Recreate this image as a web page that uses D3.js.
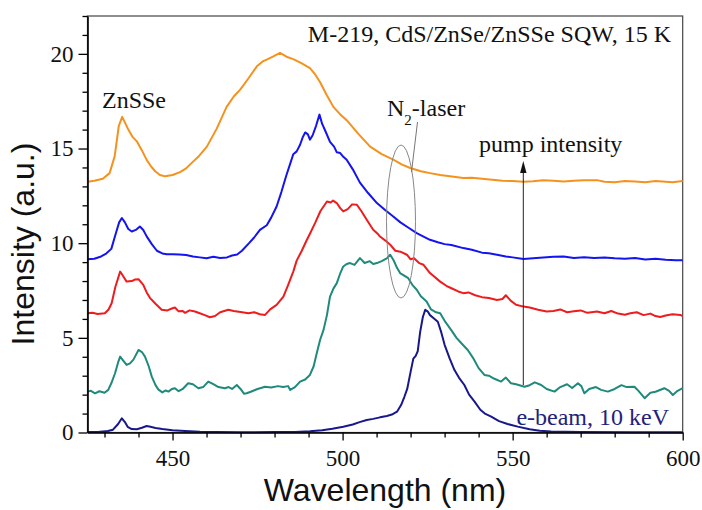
<!DOCTYPE html>
<html>
<head>
<meta charset="utf-8">
<script src="https://cdn.jsdelivr.net/npm/d3@7"></script>
<style>
  html, body { margin: 0; padding: 0; background: #fff; }
  svg { display: block; }
</style>
</head>
<body>
<svg id="chart" width="702" height="510"></svg>
<script>
// ---- data (wavelength nm, intensity a.u.) ----
const orange = [[425,13.25],[427,13.3],[429.5,13.4],[431.5,13.7],[433,14.6],[434.2,16.2],[435.2,16.67],[436.2,16.3],[437,16.0],[438.3,15.6],[439.5,15.38],[441,14.9],[442.4,14.4],[443.7,14.05],[444.9,13.8],[446.3,13.6],[447.8,13.53],[450,13.6],[452.2,13.75],[454,13.95],[455.1,14.15],[457.5,14.55],[460.1,15.1],[463,16.05],[465.9,17.2],[468,17.75],[469.9,18.11],[472.5,18.75],[474.8,19.34],[476.5,19.6],[477.7,19.7],[479.5,19.85],[481.6,20.05],[483.5,19.85],[485.5,19.72],[488,19.5],[490.4,19.25],[492,18.9],[493.4,18.5],[495.4,17.8],[497.3,17.2],[499.3,16.8],[501.2,16.5],[504.5,15.8],[508.1,15.1],[511.5,14.7],[514.9,14.41],[517.5,14.15],[519.9,13.97],[523,13.8],[525.7,13.7],[528.7,13.6],[531,13.55],[535.5,13.44],[538,13.45],[541,13.4],[544,13.35],[547,13.3],[550,13.28],[553.2,13.25],[556,13.27],[559,13.32],[562,13.3],[565,13.26],[568,13.3],[571,13.32],[574.8,13.33],[577,13.25],[580,13.22],[583,13.28],[586,13.26],[589,13.22],[592,13.28],[595,13.25],[597,13.22],[600,13.28]];

const blue = [[425,9.15],[427,9.18],[429,9.3],[430.5,9.45],[432,9.7],[433.3,10.5],[434.3,11.1],[435.1,11.33],[436,11.1],[437,10.75],[438,10.62],[439.2,10.7],[440.4,10.88],[441.4,10.7],[442.4,10.36],[443.9,9.95],[445.4,9.6],[447,9.46],[448.3,9.42],[450,9.42],[452,9.4],[454,9.38],[456,9.3],[458,9.25],[460,9.2],[462,9.28],[464,9.22],[466,9.25],[467.5,9.35],[469,9.4],[470.4,9.6],[472.5,10.0],[474,10.3],[475.7,10.7],[477.7,10.95],[479,11.35],[480.6,11.94],[482,12.7],[483.5,13.6],[484.6,14.2],[485.5,14.7],[486.5,14.85],[487.5,15.2],[488.3,15.6],[489,15.85],[489.8,15.75],[490.4,15.47],[491.2,15.7],[492.2,16.2],[493.2,16.79],[494,16.3],[495,15.9],[496.3,15.35],[497.5,15.1],[498.3,14.8],[499.3,14.76],[500.3,14.55],[501.2,14.41],[503,13.9],[505.1,13.2],[507.5,12.65],[510.1,12.12],[512.5,11.75],[514.9,11.41],[517,11.1],[519.5,10.8],[521.8,10.53],[523.8,10.35],[525.7,10.18],[528,10.05],[530,9.95],[532,9.9],[535.5,9.74],[538,9.65],[541,9.5],[543,9.47],[545.4,9.39],[548,9.3],[550,9.25],[553.2,9.16],[556,9.2],[559,9.25],[562,9.28],[565,9.3],[568,9.22],[571,9.26],[574,9.22],[577,9.25],[580,9.2],[583,9.18],[586,9.22],[589,9.14],[592,9.18],[595,9.12],[598,9.1],[600,9.1]];

const red = [[425,6.3],[426.5,6.32],[428,6.26],[430.1,6.3],[431.2,6.5],[432.1,6.83],[433.2,7.7],[434.6,8.5],[435.5,8.25],[436.5,7.97],[438,8.0],[439,8.08],[440,8.1],[441.4,7.8],[442.4,7.4],[443.4,7.1],[445,6.8],[446.8,6.48],[448.5,6.45],[449.8,6.55],[450.7,6.6],[451.8,6.4],[453,6.42],[453.7,6.32],[455,6.45],[456.6,6.39],[458,6.3],[459.5,6.2],[461,6.09],[462.5,6.15],[464,6.35],[466.4,6.48],[468,6.42],[470,6.36],[472.3,6.3],[474,6.35],[475.7,6.25],[477.2,6.21],[478.7,6.5],[480.6,6.74],[482.6,7.18],[484,7.8],[485.5,8.5],[486.5,9.08],[488,9.6],[489.3,10.1],[490.4,10.5],[492,11.1],[493.5,11.7],[495.4,12.2],[496.5,12.15],[497.2,12.25],[498.3,12.12],[499.3,11.85],[500.2,11.68],[501.5,11.8],[502.8,12.05],[504.2,12.03],[505.5,11.7],[507.1,11.24],[509,10.71],[510.3,10.5],[511,10.35],[512.5,10.15],[514,9.92],[515.5,9.6],[517,9.55],[518.9,9.39],[520,9.15],[521,9.2],[522.5,8.95],[523.8,8.86],[525.7,8.42],[528.7,7.97],[530.5,7.75],[532,7.62],[534,7.45],[535.5,7.36],[537,7.4],[539,7.25],[541,7.15],[543,7.1],[545.4,7.0],[547,7.05],[548,7.25],[549.5,6.95],[551,6.75],[553.2,6.65],[555,6.6],[557.5,6.48],[560,6.39],[562,6.42],[564,6.5],[566,6.35],[568,6.4],[570,6.45],[572,6.32],[574.8,6.39],[577,6.3],[579,6.42],[581,6.28],[583,6.22],[584.6,6.3],[586.5,6.35],[588.5,6.2],[590.5,6.28],[592,6.15],[593.4,6.1],[595,6.18],[597,6.25],[599.3,6.21],[600,6.15]];

const teal = [[425,2.16],[426,2.2],[427.2,2.07],[428.5,2.18],[430,2.1],[431.1,2.25],[432,2.6],[433.1,3.13],[434,3.7],[434.6,4.01],[435.5,3.8],[436.5,3.57],[437.5,3.65],[438.5,3.85],[440,4.36],[441,4.25],[441.9,4.01],[443,3.5],[443.9,2.95],[445,2.5],[445.8,2.28],[447,2.12],[448,2.22],[448.8,2.16],[449.8,2.3],[450.7,2.34],[451.8,2.18],[453,2.3],[454.6,2.6],[456,2.55],[457.6,2.34],[459,2.4],[460.5,2.69],[462,2.55],[463.5,2.4],[465.4,2.34],[466.5,2.4],[467.5,2.3],[468.9,2.51],[470,2.3],[471,2.05],[471.8,2.07],[473,2.15],[475,2.3],[477.2,2.42],[479,2.38],[481,2.45],[482.5,2.4],[484,2.45],[484.6,2.25],[486,2.4],[487.5,2.69],[489,2.8],[490.4,3.04],[491.5,3.5],[492.4,4.19],[493.4,4.9],[494.4,5.42],[495.4,6.2],[496.3,7.18],[497.3,7.6],[498.3,7.89],[499.3,8.4],[500.2,8.77],[501.2,8.9],[502.2,8.95],[503.5,8.85],[505.1,9.21],[506.5,8.95],[508,9.05],[509,8.9],[510.1,8.95],[511.5,9.05],[513,9.2],[514,9.39],[515,9.1],[516,8.7],[516.9,8.42],[518,8.3],[519.3,8.15],[520.5,7.8],[521.8,7.54],[523,7.2],[524.7,6.92],[526,6.5],[527.5,6.35],[528.7,6.3],[530,5.9],[531.9,5.42],[533.5,5.0],[535,4.7],[536.8,4.36],[538.5,3.9],[540,3.4],[541.7,3.04],[543,3.0],[544.5,2.85],[546.6,2.69],[548,2.9],[549.5,2.6],[551,2.55],[553.5,2.42],[555,2.5],[556.5,2.65],[558.4,2.51],[560,2.3],[562.3,2.16],[564,2.4],[566,2.55],[567.5,2.35],[569.2,2.6],[570.2,2.45],[571.1,2.07],[572.5,2.3],[574.5,2.4],[576,2.25],[578,2.16],[580,2.3],[582,2.5],[583.5,2.4],[585.8,2.42],[587,2.2],[588.8,1.81],[590.5,2.1],[592,2.15],[594.6,2.34],[596,2.2],[597.1,1.98],[598.5,2.2],[600,2.34]];

const navy = [[425,0.02],[428,0.03],[431,0.08],[432.5,0.15],[434,0.45],[435.1,0.75],[436,0.55],[436.8,0.3],[438,0.18],[439.5,0.17],[441,0.25],[442.4,0.34],[443.5,0.3],[445,0.24],[447,0.18],[450,0.12],[453.7,0.08],[458,0.04],[463,0.02],[470,0.01],[480,0.02],[486,0.03],[490.4,0.06],[494,0.12],[497,0.2],[500.2,0.3],[503,0.42],[505,0.55],[507.1,0.66],[509,0.72],[511,0.8],[513,0.87],[514.5,0.95],[516,1.1],[517.2,1.45],[518.2,1.9],[519,2.3],[520,3.2],[520.8,3.9],[521.5,4.05],[522.1,4.3],[522.8,5.3],[523.6,6.1],[524.3,6.48],[525,6.4],[525.7,6.2],[526.7,6.05],[528,5.85],[529,5.3],[530,4.63],[531.5,3.9],[532.9,3.3],[534.2,2.9],[535.8,2.51],[537.2,2.0],[538.8,1.63],[540.5,1.2],[542,0.98],[543.7,0.84],[546,0.6],[548.5,0.45],[551.5,0.31],[555,0.17],[558,0.09],[561.3,0.05],[570,0.02],[585,0.01],[600,0.01]];

const seriesColors = ["#f5921e", "#1414f0", "#ee1c1c", "#1f8a7b", "#18188a"];
const xMajorTicks = [450, 500, 550, 600];
const yMajorTicks = [0, 5, 10, 15, 20];
const xDomain = [425, 600];
const yDomain = [0, 22];

// ---- layout ----
const svg = d3.select("#chart");
const L = 87.5, R = 682.7, T = 16, B = 432.5;
const x = d3.scaleLinear().domain(xDomain).range([L, R]);
const y = d3.scaleLinear().domain(yDomain).range([B, T]);
const serif = "'Liberation Serif','Times New Roman',Times,serif";
const sans = "'Liberation Sans',Arial,Helvetica,sans-serif";

// frame (top/right)
svg.append("rect").attr("x", L).attr("y", T).attr("width", R - L).attr("height", B - T)
  .attr("fill", "none").attr("stroke", "#444").attr("stroke-width", 1.2);

// lines
const line = d3.line().x(d => x(d[0])).y(d => y(d[1])).curve(d3.curveLinear);
const g = svg.append("g");
[orange, blue, red, teal, navy].forEach((s, i) => {
  g.append("path").datum(s).attr("d", line).attr("fill", "none")
    .attr("stroke", seriesColors[i]).attr("stroke-width", 2).attr("stroke-linejoin", "round");
});

// x axis
const xMinor = d3.range(430, 601, 10).filter(v => !xMajorTicks.includes(v));
svg.append("g").attr("transform", `translate(0,${B})`)
  .call(d3.axisBottom(x).tickValues(xMinor).tickSize(5).tickSizeOuter(0).tickFormat(""))
  .call(a => a.select(".domain").remove())
  .call(a => a.selectAll("line").attr("stroke", "#000").attr("stroke-width", 1.3));
const xa = svg.append("g").attr("transform", `translate(0,${B})`)
  .call(d3.axisBottom(x).tickValues(xMajorTicks).tickSize(8).tickSizeOuter(0).tickPadding(9).tickFormat(d3.format("d")));
xa.select(".domain").attr("stroke", "#000").attr("stroke-width", 1.6);
xa.selectAll("line").attr("stroke", "#000").attr("stroke-width", 1.3);
xa.selectAll("text").attr("font-family", serif).attr("font-size", 23).attr("fill", "#111");

// y axis
const yMinor = d3.range(1, 23, 1).filter(v => !yMajorTicks.includes(v));
svg.append("g").attr("transform", `translate(${L},0)`)
  .call(d3.axisLeft(y).tickValues(yMinor).tickSize(5).tickSizeOuter(0).tickFormat(""))
  .call(a => a.select(".domain").remove())
  .call(a => a.selectAll("line").attr("stroke", "#000").attr("stroke-width", 1.3));
const ya = svg.append("g").attr("transform", `translate(${L},0)`)
  .call(d3.axisLeft(y).tickValues(yMajorTicks).tickSize(9).tickSizeOuter(0).tickPadding(5).tickFormat(d3.format("d")));
ya.select(".domain").attr("stroke", "#000").attr("stroke-width", 1.6);
ya.selectAll("line").attr("stroke", "#000").attr("stroke-width", 1.3);
ya.selectAll("text").attr("font-family", serif).attr("font-size", 23).attr("fill", "#111");

// axis titles
svg.append("text").attr("x", 385).attr("y", 500.5).attr("text-anchor", "middle")
  .attr("font-family", sans).attr("font-size", 32).attr("fill", "#111").text("Wavelength (nm)");
svg.append("text").attr("transform", "translate(33.5,244) rotate(-90)").attr("text-anchor", "middle")
  .attr("font-family", sans).attr("font-size", 32).attr("fill", "#111").text("Intensity (a.u.)");

// annotations
svg.append("text").attr("x", 671).attr("y", 42).attr("text-anchor", "end")
  .attr("font-family", serif).attr("font-size", 24).attr("fill", "#111").text("M-219, CdS/ZnSe/ZnSSe SQW, 15 K");
svg.append("text").attr("x", 102).attr("y", 108).attr("font-family", serif).attr("font-size", 24)
  .attr("fill", "#111").text("ZnSSe");
const n2 = svg.append("text").attr("x", 387).attr("y", 116).attr("font-family", serif).attr("font-size", 24).attr("fill", "#111");
n2.append("tspan").text("N");
n2.append("tspan").attr("font-size", 15).attr("dy", 9).text("2");
n2.append("tspan").attr("dy", -9).text("-laser");
svg.append("text").attr("x", 479).attr("y", 152).attr("font-family", serif).attr("font-size", 24)
  .attr("fill", "#111").text("pump intensity");
svg.append("text").attr("x", 669).attr("y", 425).attr("text-anchor", "end").attr("font-family", serif)
  .attr("font-size", 24).attr("fill", "#22227a").text("e-beam, 10 keV");

// ellipse + pointer for N2-laser
svg.append("ellipse").attr("cx", 401).attr("cy", 221.5).attr("rx", 14.5).attr("ry", 76.5)
  .attr("fill", "none").attr("stroke", "#888").attr("stroke-width", 1);
svg.append("line").attr("x1", 417.5).attr("y1", 122).attr("x2", 411.5).attr("y2", 172)
  .attr("stroke", "#777").attr("stroke-width", 1);

// pump intensity arrow
const ax = 523.3;
svg.append("line").attr("x1", ax).attr("y1", 385).attr("x2", ax).attr("y2", 168)
  .attr("stroke", "#222").attr("stroke-width", 1);
svg.append("path").attr("d", `M${ax},161 L${ax - 3.2},173 L${ax + 3.2},173 Z`).attr("fill", "#111");
</script>
</body>
</html>
